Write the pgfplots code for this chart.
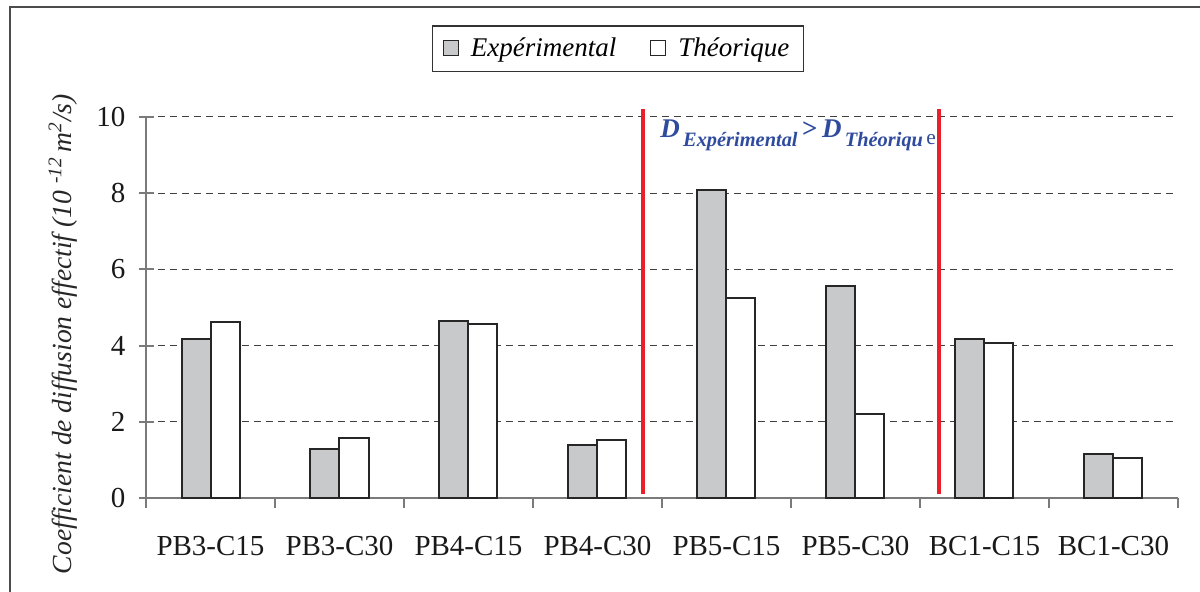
\documentclass[border=0pt]{standalone}
\usepackage{pgfplots}
\pgfplotsset{compat=1.18}
\usepackage{fontspec}
\setmainfont{Liberation Serif}[ItalicFont={Liberation Serif Italic}, BoldFont={Liberation Serif Bold}, BoldItalicFont={Liberation Serif Bold Italic}]
\definecolor{barg}{HTML}{C8C9CB}
\definecolor{redl}{HTML}{E8202A}
\definecolor{annb}{HTML}{2F4B9E}
\definecolor{axg}{HTML}{7A7A7A}
\begin{document}
\begin{tikzpicture}
\useasboundingbox (0,0) rectangle (600pt,296pt);
\draw[line width=1pt, draw=black!70] (5pt,-2pt) -- (5pt,292.5pt) -- (602pt,292.5pt);
\begin{axis}[
  at={(73pt,47pt)}, anchor=south west,
  scale only axis, width=516pt, height=190.5pt,
  xmin=-0.5, xmax=7.5, ymin=0, ymax=10,
  ybar=0pt, bar width=14.5pt,
  axis x line*=bottom, axis y line*=left,
  axis line style={-, draw=axg, line width=1pt},
  xtick={0,1,2,3,4,5,6,7},
  xticklabels={PB3-C15,PB3-C30,PB4-C15,PB4-C30,PB5-C15,PB5-C30,BC1-C15,BC1-C30},
  minor xtick={-0.5,0.5,...,7.5},
  major x tick style={draw=none},
  minor x tick style={draw=axg, line width=1pt},
  xtick align=outside,
  minor tick length=5pt,
  ytick={0,2,4,6,8,10},
  ytick align=center,
  major tick length=7.5pt,
  ytick style={draw=axg, line width=1pt},
  ymajorgrids,
  grid style={dashed, dash pattern=on 3.5pt off 2.5pt, draw=black!75, line width=0.5pt},
  /pgf/number format/assume math mode=true,
  tick label style={font=\fontsize{14.5}{16}\selectfont, text=black!90},
  xticklabel style={yshift=-8pt},
  yticklabel style={xshift=-3pt},
  ylabel={Coefficient de diffusion effectif (10 \textsuperscript{-12}\,m\textsuperscript{2}/s)},
  ylabel style={at={(axis description cs:-0.0804,0.430)}, anchor=center, font=\fontsize{13.8}{15}\selectfont\itshape, text=black!85},
  legend style={at={(0.4574,1.179)}, anchor=center, legend columns=2, draw=black!80, line width=0.6pt,
    font=\fontsize{13.5}{16}\selectfont\itshape, inner xsep=5pt, inner ysep=4pt,
    /tikz/every odd column/.append style={column sep=4pt},
    /tikz/every even column/.append style={column sep=15pt}},
  legend image code/.code={\draw[#1, line width=0.6pt] (0pt,-3.5pt) rectangle (7.5pt,4pt);},
  clip=false,
]
\addplot[fill=barg, draw=black!85, line width=1pt] coordinates {
  (0,4.17) (1,1.29) (2,4.65) (3,1.38) (4,8.08) (5,5.57) (6,4.18) (7,1.15)};
\addplot[fill=white, draw=black!85, line width=1pt] coordinates {
  (0,4.62) (1,1.57) (2,4.57) (3,1.53) (4,5.24) (5,2.20) (6,4.08) (7,1.05)};
\legend{Expérimental,Théorique}
\draw[redl, line width=2pt] (axis cs:3.35,0.1) -- (axis cs:3.35,10.22);
\draw[redl, line width=2pt] (axis cs:5.647,0.1) -- (axis cs:5.647,10.22);
\node[anchor=base west, text=annb, inner sep=0pt] at (axis cs:3.484,9.45)
  {{\fontsize{13.5}{14}\selectfont\bfseries\itshape D}\,\raisebox{-4.5pt}{\fontsize{10.2}{11}\selectfont\bfseries\itshape Expérimental}{\fontsize{13.5}{14}\selectfont\bfseries\,>\,\itshape D}\,\raisebox{-4.5pt}{\fontsize{10.2}{11}\selectfont\bfseries\itshape Théoriqu}\,\raisebox{-3.5pt}{\fontsize{10.7}{11}\selectfont e}};
\end{axis}
\end{tikzpicture}
\end{document}
